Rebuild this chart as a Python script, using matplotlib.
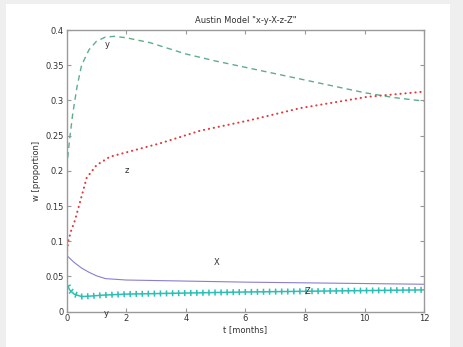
import matplotlib.pyplot as plt
import matplotlib.patheffects as pe
from matplotlib.patches import Rectangle

# values (t in months)
t_y = [0, 0.1, 0.2, 0.35, 0.5, 0.75, 1.0, 1.3, 1.6, 2.0, 2.8, 4, 5, 6, 7, 8, 9, 10, 11, 12]
y_vals = [0.205, 0.245, 0.28, 0.32, 0.35, 0.372, 0.384, 0.390, 0.391, 0.389, 0.382, 0.366,
          0.356, 0.347, 0.338, 0.329, 0.32, 0.311, 0.304, 0.299]

t_z = [0, 0.05, 0.15, 0.28, 0.45, 0.67, 1.0, 1.45, 2.24, 3.13, 4.48, 6.16, 7.83, 10.07, 12]
z_vals = [0.08, 0.1, 0.115, 0.13, 0.156, 0.19, 0.208, 0.22, 0.229, 0.239, 0.257, 0.272,
          0.289, 0.305, 0.3125]

t_X = [0, 0.25, 0.5, 0.75, 1.0, 1.3, 2, 4, 6, 8, 10, 12]
X_vals = [0.08, 0.07, 0.062, 0.056, 0.051, 0.047, 0.045, 0.0435, 0.042, 0.041, 0.040, 0.039]

t_Z = [0, 0.1, 0.25, 0.5, 0.8, 1.2, 2, 4, 6, 8, 10, 12]
Z_vals = [0.040, 0.031, 0.025, 0.0215, 0.0222, 0.0235, 0.025, 0.0265, 0.028, 0.029, 0.030, 0.031]

# curve labels as placed in the picture
labels = ['y', 'z', 'X', 'Z', 'y']
label_t = [1.35, 2.02, 5.05, 8.07, 1.32]
label_v = [0.379, 0.2, 0.0705, 0.029, -0.002]

fig = plt.figure(figsize=(4.63, 3.47), dpi=100, facecolor='#efefef')
fig.patches.append(Rectangle((6 / 463, 0), 444 / 463, 343 / 347, transform=fig.transFigure,
                             facecolor='white', edgecolor='none', zorder=-5))
ax = fig.add_axes([0.144, 0.1017, 0.772, 0.8118])

ax.plot(t_y, y_vals, color='#5fae8a', lw=1.0, ls=(0, (4, 3)))
ax.plot(t_z, z_vals, color='#e03a3a', lw=1.5, ls=(0, (0.1, 2.3)), dash_capstyle='round')
ax.plot(t_X, X_vals, color='#8a7fd0', lw=0.8)
ax.plot(t_Z, Z_vals, color='#2cc0b4', lw=1.1,
        path_effects=[pe.TickedStroke(spacing=4.3, angle=90, length=0.38),
                      pe.TickedStroke(spacing=4.3, angle=-90, length=0.38),
                      pe.Normal()])

for lab, tt, vv in zip(labels, label_t, label_v):
    ax.text(tt, vv, lab, fontsize=6, color='#333333', ha='center', va='center')

ax.set_xlim(0, 12)
ax.set_ylim(0, 0.4)
ax.set_xticks(range(0, 13, 2))
ax.set_yticks([0, 0.05, 0.1, 0.15, 0.2, 0.25, 0.3, 0.35, 0.4])
ax.set_yticklabels(['0', '0.05', '0.1', '0.15', '0.2', '0.25', '0.3', '0.35', '0.4'])
ax.tick_params(direction='in', top=True, right=True, labelsize=6, length=3,
               color='#999999', labelcolor='#333333', pad=2)
for s in ax.spines.values():
    s.set_color('#9a9a9a')
    s.set_linewidth(1.0)

ax.set_title('Austin Model "x-y-X-z-Z"', fontsize=6, color='#333333', pad=5)
ax.set_xlabel('t [months]', fontsize=6, color='#333333', labelpad=1)
ax.set_ylabel('w [proportion]', fontsize=6, color='#333333', labelpad=3)

fig.savefig('out.png', dpi=100, facecolor=fig.get_facecolor())
